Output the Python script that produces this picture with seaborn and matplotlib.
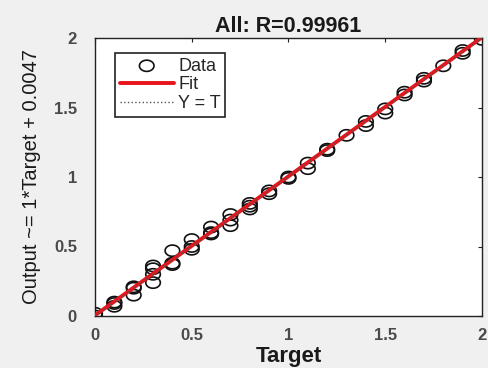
import numpy as np
import pandas as pd
import matplotlib
matplotlib.use("Agg")
import matplotlib.pyplot as plt
from matplotlib.path import Path
import seaborn as sns

# Data: target values and network outputs
target = [0.0, 0.0, 0.1, 0.1, 0.1, 0.2, 0.2, 0.2, 0.3, 0.3, 0.3, 0.3,
          0.4, 0.4, 0.4, 0.5, 0.5, 0.5, 0.6, 0.6, 0.6, 0.7, 0.7, 0.7,
          0.8, 0.8, 0.8, 0.9, 0.9, 1.0, 1.0, 1.1, 1.1, 1.2, 1.2, 1.3,
          1.4, 1.4, 1.5, 1.5, 1.6, 1.6, 1.7, 1.7, 1.8, 1.9, 1.9, 2.0]
output = [0.02, 0.00, 0.07, 0.09, 0.10, 0.20, 0.21, 0.15, 0.36, 0.30, 0.24, 0.34,
          0.47, 0.37, 0.38, 0.55, 0.48, 0.50, 0.64, 0.59, 0.60, 0.73, 0.69, 0.65,
          0.81, 0.77, 0.79, 0.90, 0.88, 0.99, 1.00, 1.10, 1.06, 1.19, 1.20, 1.30,
          1.40, 1.37, 1.49, 1.46, 1.61, 1.59, 1.71, 1.69, 1.80, 1.89, 1.91, 1.99]
fit_slope = 1.0
fit_intercept = 0.0047
line_x = [0.0, 2.0]
xticks = [0, 0.5, 1, 1.5, 2]
yticks = [0, 0.5, 1, 1.5, 2]
tick_labels = ['0', '0.5', '1', '1.5', '2']

sns.set_style("white")
plt.rcParams['font.family'] = ['Liberation Sans', 'DejaVu Sans']

# slightly wide open-circle marker (the reference image is horizontally stretched)
_t = np.linspace(0, 2 * np.pi, 60)
ellipse = Path(np.column_stack([1.3 * np.cos(_t), np.sin(_t)]), closed=True)

fig = plt.figure(figsize=(4.89, 3.68), dpi=100, facecolor='#f0f0f0')
ax = fig.add_axes([95/489, 1 - 316/368, (482-95)/489, (316-38)/368])
ax.set_facecolor('white')

df = pd.DataFrame({'Target': target, 'Output': output})
lines = pd.DataFrame({'x': line_x,
                      'fit': [fit_slope * v + fit_intercept for v in line_x],
                      'yt': line_x})

sns.scatterplot(data=df, x='Target', y='Output', ax=ax, marker=ellipse, s=110,
                facecolors='none', edgecolor='#111111', linewidth=1.2,
                label='Data', zorder=3)
sns.lineplot(data=lines, x='x', y='fit', ax=ax, color='#e8141b', linewidth=2.8,
             label='Fit', zorder=4)
sns.lineplot(data=lines, x='x', y='yt', ax=ax, color='#555555', linewidth=1.0,
             linestyle=':', label='Y = T', zorder=5)

ax.set_xlim(0, 2)
ax.set_ylim(0, 2)
ax.set_xticks(xticks)
ax.set_yticks(yticks)
ax.set_xticklabels(tick_labels)
ax.set_yticklabels(tick_labels)
ax.tick_params(direction='in', length=3, width=0.8, top=True, right=True,
               labelsize=12, colors='#222222', labelcolor='#4a4a4a')
ax.tick_params(axis='x', pad=9)
ax.tick_params(axis='y', pad=13)
for lab in ax.get_xticklabels() + ax.get_yticklabels():
    lab.set_fontweight('bold')
for sp in ax.spines.values():
    sp.set_color('#222222')
    sp.set_linewidth(1.0)

ax.set_title('All: R=0.99961', fontsize=15.5, fontweight='bold', pad=4, color='#1a1a1a')
ax.set_xlabel('Target', fontsize=16, fontweight='bold', labelpad=2, color='#1a1a1a')
ax.set_ylabel('Output ~= 1*Target + 0.0047', fontsize=14.5, labelpad=9, color='#1a1a1a')

leg = ax.legend(loc='upper left', bbox_to_anchor=(0.052, 0.946), borderaxespad=0,
                frameon=True, fancybox=False, edgecolor='#222222', fontsize=13,
                handlelength=3.0, borderpad=0.25, labelspacing=0.1,
                handletextpad=0.25, framealpha=1)
leg.get_frame().set_linewidth(1.2)

fig.savefig('out.png', dpi=100, facecolor=fig.get_facecolor())
